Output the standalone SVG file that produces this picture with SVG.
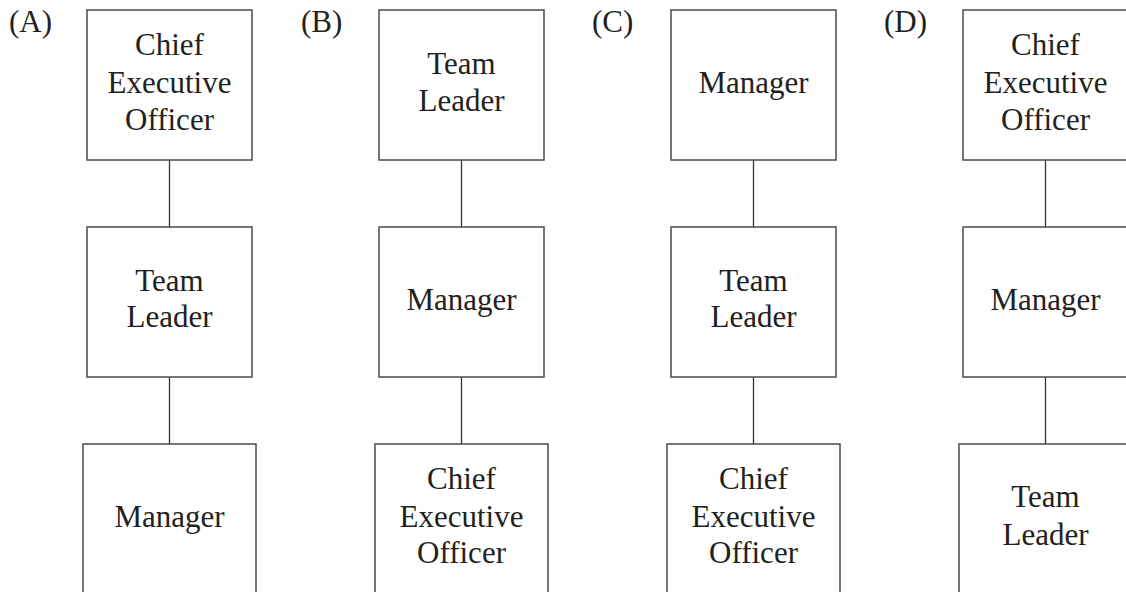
<svg xmlns="http://www.w3.org/2000/svg" width="1126" height="592" viewBox="0 0 1126 592">
<style>
.box{fill:#fff;stroke:#4a4a4a;stroke-width:1.5}
.con{stroke:#333;stroke-width:1.3;fill:none}
text{font-family:"Liberation Serif","Times New Roman",serif;font-size:31px;fill:#231f20}
.c{text-anchor:middle}
</style>
<rect width="1126" height="592" fill="#fff"/>
<g id="connectors">
<line class="con" x1="169.5" y1="160" x2="169.5" y2="227"/>
<line class="con" x1="169.5" y1="377" x2="169.5" y2="444"/>
<line class="con" x1="461.5" y1="160" x2="461.5" y2="227"/>
<line class="con" x1="461.5" y1="377" x2="461.5" y2="444"/>
<line class="con" x1="753.5" y1="160" x2="753.5" y2="227"/>
<line class="con" x1="753.5" y1="377" x2="753.5" y2="444"/>
<line class="con" x1="1045.5" y1="160" x2="1045.5" y2="227"/>
<line class="con" x1="1045.5" y1="377" x2="1045.5" y2="444"/>
</g>
<g id="labels">
<text x="9" y="32">(A)</text>
<text x="301" y="32">(B)</text>
<text x="592" y="32">(C)</text>
<text x="884" y="32">(D)</text>
</g>
<g id="A-top"><rect class="box" x="87" y="10" width="165" height="150"/>
<text class="c" x="169.5" y="55">Chief</text><text class="c" x="169.5" y="93">Executive</text><text class="c" x="169.5" y="130">Officer</text></g>
<g id="A-mid"><rect class="box" x="87" y="227" width="165" height="150"/>
<text class="c" x="169.5" y="291">Team</text><text class="c" x="169.5" y="327">Leader</text></g>
<g id="A-bot"><rect class="box" x="83" y="444" width="173" height="152"/>
<text class="c" x="169.5" y="527">Manager</text></g>
<g id="B-top"><rect class="box" x="379" y="10" width="165" height="150"/>
<text class="c" x="461.5" y="74">Team</text><text class="c" x="461.5" y="111">Leader</text></g>
<g id="B-mid"><rect class="box" x="379" y="227" width="165" height="150"/>
<text class="c" x="461.5" y="310">Manager</text></g>
<g id="B-bot"><rect class="box" x="375" y="444" width="173" height="152"/>
<text class="c" x="461.5" y="489">Chief</text><text class="c" x="461.5" y="527">Executive</text><text class="c" x="461.5" y="563">Officer</text></g>
<g id="C-top"><rect class="box" x="671" y="10" width="165" height="150"/>
<text class="c" x="753.5" y="93">Manager</text></g>
<g id="C-mid"><rect class="box" x="671" y="227" width="165" height="150"/>
<text class="c" x="753.5" y="291">Team</text><text class="c" x="753.5" y="327">Leader</text></g>
<g id="C-bot"><rect class="box" x="667" y="444" width="173" height="152"/>
<text class="c" x="753.5" y="489">Chief</text><text class="c" x="753.5" y="527">Executive</text><text class="c" x="753.5" y="563">Officer</text></g>
<g id="D-top"><rect class="box" x="963" y="10" width="165" height="150"/>
<text class="c" x="1045.5" y="55">Chief</text><text class="c" x="1045.5" y="93">Executive</text><text class="c" x="1045.5" y="130">Officer</text></g>
<g id="D-mid"><rect class="box" x="963" y="227" width="165" height="150"/>
<text class="c" x="1045.5" y="310">Manager</text></g>
<g id="D-bot"><rect class="box" x="959" y="444" width="173" height="152"/>
<text class="c" x="1045.5" y="507">Team</text><text class="c" x="1045.5" y="545">Leader</text></g>
</svg>
